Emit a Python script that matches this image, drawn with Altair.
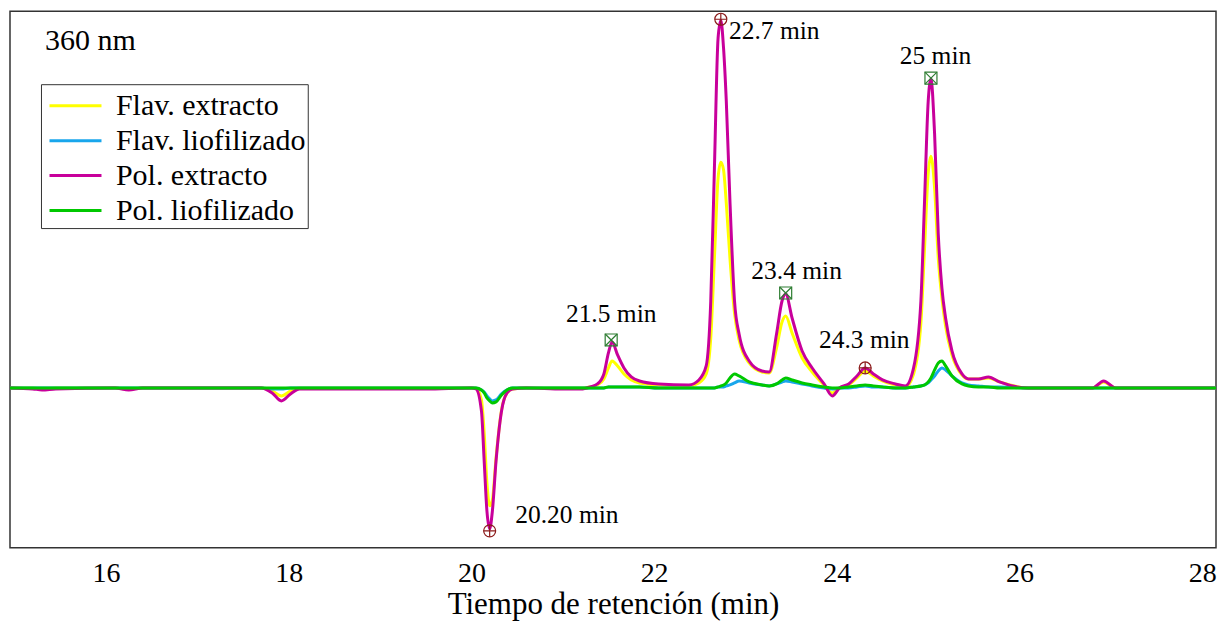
import altair as alt
import pandas as pd

# ---- data (360 nm) ----
tiempo = [14.95, 15.2, 15.3, 15.45, 16.1, 16.25, 16.4, 17.7, 17.82, 17.92,
          18.02, 18.12, 18.9, 19.5, 20.0, 20.05, 20.11, 20.14, 20.17, 20.20,
          20.23, 20.27, 20.33, 20.39, 20.45, 20.6, 21.0, 21.2, 21.3, 21.38,
          21.45, 21.5, 21.54, 21.6, 21.67, 21.75, 21.84, 22.05, 22.38, 22.49,
          22.57, 22.62, 22.66, 22.70, 22.73, 22.76, 22.79, 22.83, 22.88, 22.93,
          23.04, 23.18, 23.26, 23.34, 23.40, 23.44, 23.51, 23.62, 23.73, 23.86,
          23.95, 24.03, 24.13, 24.22, 24.31, 24.40, 24.50, 24.64, 24.75, 24.84,
          24.92, 24.96, 25.00, 25.03, 25.07, 25.11, 25.15, 25.19, 25.26, 25.37,
          25.44, 25.55, 25.66, 25.78, 26.1, 26.8, 26.92, 27.05, 28.15]

pol_extracto = [0, -1, -2, -1, 0, -2, 0, 0, -5, -13,
                -6, -1, -1, -1, 0, -1, -23, -73, -123, -141,
                -123, -73, -23, -5, -1, 0, -1, -1, 1, 4,
                14, 35, 46, 33, 20, 11, 7, 4, 3, 8,
                22, 87, 220, 350, 368, 340, 287, 187, 87, 54,
                27, 17, 16, 54, 87, 94, 70, 37, 20, 4,
                -8, 0, 4, 12, 20, 14, 8, 4, 2, 20,
                87, 187, 287, 309, 254, 154, 100, 70, 37, 14,
                9, 9, 11, 6, 0, 0, 7, 0, 0]

flav_extracto = [0, 0, -1, 0, 0, -1, 0, 0, -3, -8,
                 -3, 0, 0, 0, 0, 0, -12, -45, -95, -118,
                 -112, -70, -22, -5, -1, 0, 0, 0, 1, 3,
                 9, 20, 27, 22, 14, 8, 5, 3, 2, 5,
                 14, 50, 130, 210, 226, 218, 185, 130, 75, 48,
                 25, 16, 15, 40, 66, 72, 55, 30, 16, 3,
                 -5, 0, 3, 10, 17, 12, 7, 3, 1, 14,
                 65, 140, 215, 232, 200, 130, 90, 62, 33, 13,
                 9, 9, 10, 6, 0, 0, 6, 0, 0]

flav_liofilizado = [0, 0, 0, 0, 0, 0, 0, 0, -1, -1,
                    0, 0, 0, 0, 0, 0, -2, -4, -8, -11,
                    -13, -12, -6, -2, 0, 0, 0, 0, 0, 0,
                    0, 1, 1, 1, 1, 1, 1, 0, 0, 0,
                    0, 0, 0, 1, 1, 1, 2, 3, 5, 7,
                    5, 3, 2, 4, 6, 7, 6, 4, 2, 0,
                    -1, 0, 0, 1, 2, 1, 1, 0, 0, 1,
                    2, 3, 5, 8, 12, 17, 20, 18, 12, 5,
                    3, 2, 1, 1, 0, 0, 0, 0, 0]

pol_liofilizado = [0, 0, 0, 0, 0, 0, 0, 0, 0, 0,
                   0, 0, 0, 0, 0, 0, -2, -5, -10, -13,
                   -15, -14, -7, -2, 0, 0, 0, 0, 0, 0,
                   0, 1, 1, 1, 1, 1, 1, 0, 0, 0,
                   0, 0, 0, 1, 2, 3, 5, 10, 14, 12,
                   6, 3, 2, 4, 8, 10, 8, 5, 3, 1,
                   0, 0, 1, 2, 3, 2, 1, 0, 0, 1,
                   2, 3, 6, 10, 18, 25, 27, 22, 12, 4,
                   2, 1, 1, 0, 0, 0, 0, 0, 0]

series_names = ["Flav. extracto", "Flav. liofilizado", "Pol. extracto", "Pol. liofilizado"]
series_colors = ["#ffff00", "#18a6ec", "#c8009b", "#00c800"]
series_values = [flav_extracto, flav_liofilizado, pol_extracto, pol_liofilizado]

# peak markers
circ_t = [22.73, 20.20, 24.31]
circ_v = [369, -143, 20]
sq_t = [21.53, 23.44, 25.03]
sq_v = [48, 95, 310]

# peak labels
left_text = ["22.7 min", "20.20 min"]
left_t = [22.82, 20.48]
left_v = [357, -127]
center_text = ["21.5 min", "23.4 min", "24.3 min", "25 min"]
center_t = [21.53, 23.56, 24.30, 25.08]
center_v = [74, 117, 48, 332]

FONT = "Liberation Serif"

rows = []
for name, vals in zip(series_names, series_values):
    for t, v in zip(tiempo, vals):
        rows.append({"t": t, "v": v, "serie": name})
df = pd.DataFrame(rows)

xscale = alt.Scale(domain=[14.95, 28.15], nice=False, zero=False)
yscale = alt.Scale(domain=[-160, 377], nice=False, zero=False)
color = alt.Color(
    "serie:N",
    scale=alt.Scale(domain=series_names, range=series_colors),
    legend=alt.Legend(
        title=None, orient="none", legendX=31, legendY=73,
        labelFont=FONT, labelFontSize=30, labelColor="black",
        symbolType="M-0.72,0L2.17,0", symbolSize=1296, symbolStrokeWidth=3,
        symbolFillColor="transparent",
        rowPadding=0, padding=2, labelOffset=34,
        strokeColor="#333333", fillColor="white", labelLimit=400,
    ),
)

xenc = alt.X(
    "t:Q", scale=xscale,
    axis=alt.Axis(
        title="Tiempo de retención (min)", values=[16, 18, 20, 22, 24, 26, 28],
        format="d", ticks=False, grid=False, domain=False, labelPadding=12,
        labelFont=FONT, labelFontSize=28, labelColor="black",
        titleFont=FONT, titleFontSize=31, titleFontWeight="normal",
        titleColor="black", titlePadding=2,
    ),
)
yenc = alt.Y("v:Q", scale=yscale, axis=None)

layers = []
for name in series_names:
    layers.append(
        alt.Chart(df).transform_filter(alt.datum.serie == name)
        .mark_line(strokeWidth=3, interpolate="monotone", clip=True)
        .encode(x=xenc, y=yenc, color=color)
    )

circ_df = pd.DataFrame({"t": circ_t, "v": circ_v})
sq_df = pd.DataFrame({"t": sq_t, "v": sq_v})

circ = alt.Chart(circ_df).mark_point(
    shape="circle", size=144, filled=False, color="#8b1a1a", strokeWidth=1.2, opacity=1
).encode(x="t:Q", y="v:Q")
circ_x = alt.Chart(circ_df).mark_point(
    shape="M-1,0L1,0M0,-1L0,1", size=144, filled=False, color="#8b1a1a", strokeWidth=1.2, opacity=1
).encode(x="t:Q", y="v:Q")
sq = alt.Chart(sq_df).mark_point(
    shape="square", size=144, filled=False, color="#2e7d32", strokeWidth=1.2, opacity=1
).encode(x="t:Q", y="v:Q")
sq_x = alt.Chart(sq_df).mark_point(
    shape="M-1,-1L1,1M-1,1L1,-1", size=144, filled=False, color="#2e7d32", strokeWidth=1.2, opacity=1
).encode(x="t:Q", y="v:Q")

left_df = pd.DataFrame({"t": left_t, "v": left_v, "txt": left_text})
center_df = pd.DataFrame({"t": center_t, "v": center_v, "txt": center_text})
left_lbl = alt.Chart(left_df).mark_text(
    align="left", baseline="middle", font=FONT, fontSize=25.5, color="black"
).encode(x="t:Q", y="v:Q", text="txt:N")
center_lbl = alt.Chart(center_df).mark_text(
    align="center", baseline="middle", font=FONT, fontSize=25.5, color="black"
).encode(x="t:Q", y="v:Q", text="txt:N")

nm = alt.Chart(pd.DataFrame({"txt": ["360 nm"]})).mark_text(
    align="left", baseline="middle", font=FONT, fontSize=30, color="black"
).encode(x=alt.value(35), y=alt.value(30), text="txt:N")

chart = alt.layer(*layers, circ, circ_x, sq, sq_x, left_lbl, center_lbl, nm).properties(
    width=1207, height=537,
    padding={"left": 2, "top": 2, "right": 4, "bottom": 2},
).configure(
    font=FONT
).configure_view(
    stroke="#333333", strokeWidth=1.5
)

chart.save("out.html", embed_options={"renderer": "svg", "actions": False})
